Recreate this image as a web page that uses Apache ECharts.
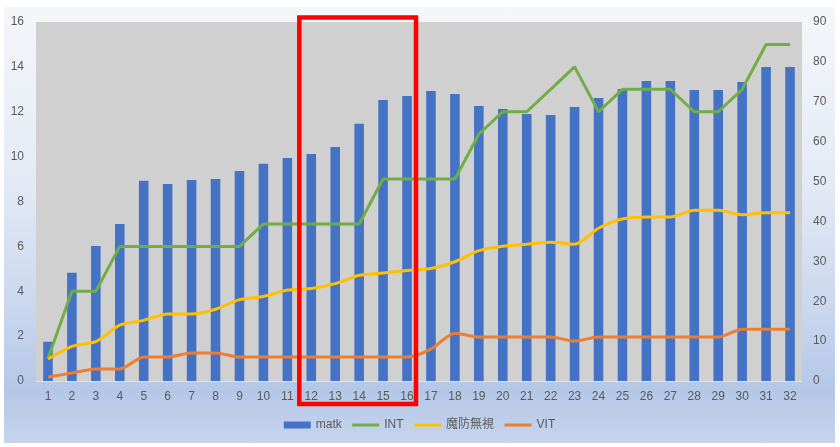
<!DOCTYPE html>
<html>
<head>
<meta charset="utf-8">
<script src="https://cdn.jsdelivr.net/npm/echarts@6/dist/echarts.min.js"></script>
<style>
html,body{margin:0;padding:0;background:#ffffff;}
#chart{position:absolute;left:4px;top:7px;width:831px;height:436px;
background:linear-gradient(to bottom,#f5f6fa 0%,#e4eaf5 40%,#c9d6ee 70%,#b4c7e7 88%,#c7d4ec 100%);}
</style>
</head>
<body>
<div id="chart"></div>
<script>
const categories = ['1','2','3','4','5','6','7','8','9','10','11','12','13','14','15','16','17','18','19','20','21','22','23','24','25','26','27','28','29','30','31','32'];
const matk = [1.75,4.82,6.02,7.0,8.92,8.78,8.96,9.0,9.36,9.68,9.94,10.12,10.43,11.46,12.52,12.7,12.93,12.79,12.26,12.12,11.9,11.86,12.21,12.61,13.01,13.37,13.37,12.97,12.97,13.33,14.0,14.0];
const INT = [1,4,4,6,6,6,6,6,6,7,7,7,7,7,9,9,9,9,11,12,12,13,14,12,13,13,13,12,12,13,15,15];
const mabouMushi = [5.5,8.7,9.9,14,15.2,16.8,16.8,18,20.4,21.2,22.8,23.2,24.4,26.5,27.1,27.7,28.2,29.9,32.7,33.8,34.3,34.8,34.3,38.3,40.6,41.1,41.1,42.8,42.8,41.7,42.2,42.2];
const VIT = [1,2,3,3,6,6,7,7,6,6,6,6,6,6,6,6,8,12,11,11,11,11,10,11,11,11,11,11,11,13,13,13];
const leftTicks = {min:0,max:16,interval:2};
const rightTicks = {min:0,max:90,interval:10};

const chart = echarts.init(document.getElementById('chart'), null, {renderer:'canvas'});
const font = "'Liberation Sans','Noto Sans CJK JP',sans-serif";
const labelStyle = {color:'#595959', fontSize:12, fontFamily:font};
const lineLegend = (name) => ({name:name, itemStyle:{opacity:0}, lineStyle:{width:3}});
const option = {
  backgroundColor:'transparent',
  animation:false,
  textStyle:{fontFamily:font},
  grid:{left:32,right:33,top:15,bottom:62,show:true,backgroundColor:'#d0d0d0',borderWidth:0},
  legend:{
    bottom:7,left:'center',
    itemWidth:27,itemHeight:7,itemGap:9,
    textStyle:labelStyle,
    data:[{name:'matk',icon:'rect'},lineLegend('INT'),lineLegend('魔防無視'),lineLegend('VIT')]
  },
  xAxis:{
    type:'category',data:categories,
    axisTick:{show:false},
    axisLine:{lineStyle:{color:'#e2e2e2',width:1}},
    axisLabel:Object.assign({margin:10},labelStyle)
  },
  yAxis:[
    {type:'value',min:leftTicks.min,max:leftTicks.max,interval:leftTicks.interval,
     splitLine:{show:false},axisLine:{show:false},axisTick:{show:false},
     axisLabel:Object.assign({margin:12},labelStyle)},
    {type:'value',min:rightTicks.min,max:rightTicks.max,interval:rightTicks.interval,
     splitLine:{show:false},axisLine:{show:false},axisTick:{show:false},
     axisLabel:Object.assign({margin:11},labelStyle)}
  ],
  series:[
    {name:'matk',type:'bar',data:matk,yAxisIndex:0,barWidth:'40%',itemStyle:{color:'#4472c4'}},
    {name:'INT',type:'line',data:INT,yAxisIndex:0,symbol:'none',lineStyle:{color:'#70ad47',width:3},itemStyle:{color:'#70ad47'}},
    {name:'魔防無視',type:'line',data:mabouMushi,yAxisIndex:1,symbol:'none',smooth:0.25,lineStyle:{color:'#ffc000',width:3},itemStyle:{color:'#ffc000'}},
    {name:'VIT',type:'line',data:VIT,yAxisIndex:1,symbol:'none',smooth:0.25,lineStyle:{color:'#ed7d31',width:3},itemStyle:{color:'#ed7d31'}}
  ]
};
chart.setOption(option);

// red highlight box around categories 12-16
const x12 = chart.convertToPixel({xAxisIndex:0}, '12');
const x16 = chart.convertToPixel({xAxisIndex:0}, '16');
const band = chart.convertToPixel({xAxisIndex:0}, '2') - chart.convertToPixel({xAxisIndex:0}, '1');
const bx1 = x12 - band/2;
const bx2 = x16 + band/2 - 3;
chart.setOption({
  graphic:[{type:'rect',z:100,
    shape:{x:bx1,y:10.5,width:bx2-bx1,height:386.5},
    style:{fill:'none',stroke:'#ff0000',lineWidth:4.5}}]
});
</script>
</body>
</html>
